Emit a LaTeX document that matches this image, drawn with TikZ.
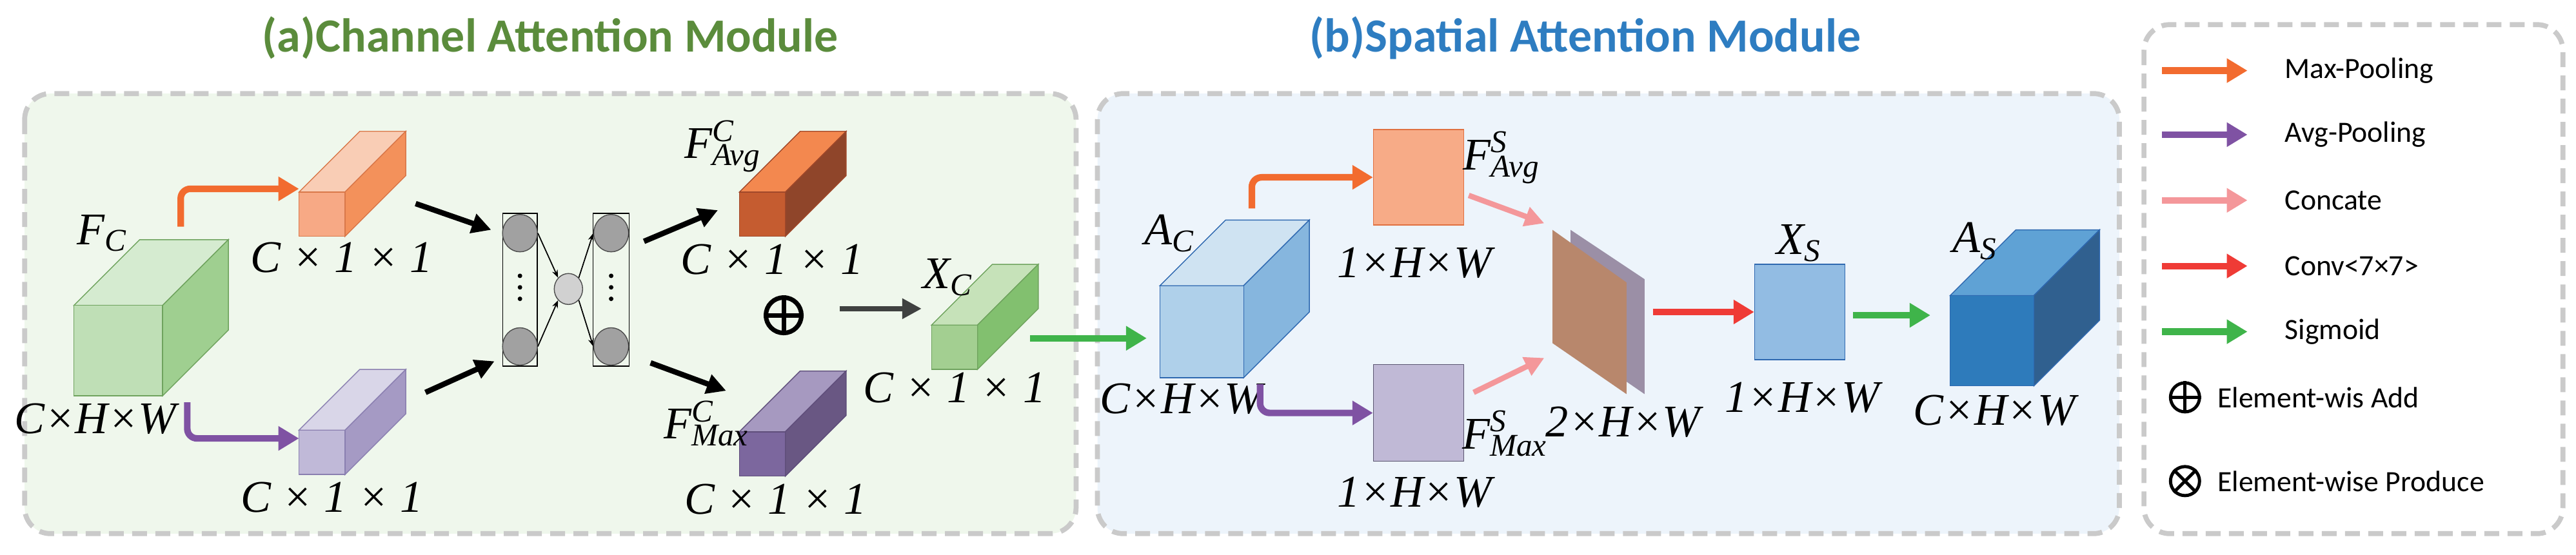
\documentclass[tikz,border=0pt]{standalone}
\usepackage{fontspec}
\setmainfont{Liberation Serif}
\newfontfamily\sansfont{Carlito}
\usetikzlibrary{arrows.meta,positioning,calc,shapes.geometric}
\definecolor{panelA}{HTML}{EFF7EC}
\definecolor{panelB}{HTML}{EDF4FB}
\definecolor{dashgray}{HTML}{CACACA}
\definecolor{maxorange}{HTML}{F26B2F}
\definecolor{avgpurple}{HTML}{7F52A3}
\definecolor{catpink}{HTML}{F4979A}
\definecolor{convred}{HTML}{EF3B36}
\definecolor{siggreen}{HTML}{3FB44A}
\definecolor{addgray}{HTML}{3F4140}
\definecolor{titlegreen}{HTML}{5B8C3C}
\definecolor{titleblue}{HTML}{2E7DC1}
\definecolor{avgsfill}{HTML}{F7AB87}
\definecolor{avgsedge}{HTML}{E07040}
\definecolor{maxsfill}{HTML}{C0B9D6}
\definecolor{maxsedge}{HTML}{5A5570}
\definecolor{xsfill}{HTML}{92BCE3}
\definecolor{blueedge}{HTML}{2E68B0}
\definecolor{slabback}{HTML}{9B8FA6}
\definecolor{slabfront}{HTML}{B8876C}
\newcommand{\lbl}{\fontsize{20}{20}\selectfont\itshape}
% cube: front x0 y0 x1 y1, depth, front/top/side/edge colours (hex)
\newcommand{\drawcube}[9]{%
  \definecolor{cubefront}{HTML}{#6}\definecolor{cubetop}{HTML}{#7}%
  \definecolor{cubeside}{HTML}{#8}\definecolor{cubeedge}{HTML}{#9}%
  \filldraw[draw=cubeedge,fill=cubetop] (#1,#2) -- ({#1+#5},{#2-#5}) -- ({#3+#5},{#2-#5}) -- (#3,#2) -- cycle;
  \filldraw[draw=cubeedge,fill=cubeside] (#3,#2) -- ({#3+#5},{#2-#5}) -- ({#3+#5},{#4-#5}) -- (#3,#4) -- cycle;
  \filldraw[draw=cubeedge,fill=cubefront] (#1,#2) rectangle (#3,#4);}
\begin{document}
\begin{tikzpicture}[x=0.02547cm,y=-0.02547cm,
  panel/.style={draw=dashgray,line width=2.2pt,dash pattern=on 0.23cm off 0.13cm,rounded corners=0.4cm},
  flow/.style={line width=2.9pt,rounded corners=0.15cm,-{Triangle[length=0.32cm,width=0.36cm]}},
  blk/.style={line width=2.4pt,-{Triangle[length=0.3cm,width=0.3cm]}},
  link/.style={line width=0.5pt,-{Stealth[length=0.12cm]}},
  neuron/.style={draw=black!70,fill=black!37,line width=0.4pt,ellipse,minimum width=0.54cm,minimum height=0.58cm,inner sep=0pt},
  legtxt/.style={anchor=west,font=\sansfont\fontsize{13}{13}\selectfont},
  ttl/.style={font=\sansfont\bfseries\fontsize{21}{21}\selectfont}]
\useasboundingbox (0,0) rectangle (1568,337.7);
% panels
\draw[panel,fill=panelA] (15,57) rectangle (655,325);
\draw[panel,fill=panelB] (668,57) rectangle (1290,325);
\draw[panel,fill=white] (1305,15) rectangle (1560,325);
\node[ttl,text=titlegreen] (titleA) at (335,23) {(a)Channel Attention Module};
\node[ttl,text=titleblue] (titleB) at (965,23) {(b)Spatial Attention Module};

% channel attention
\drawcube{45}{186}{99}{241}{40}{BFDFB6}{D5EBD0}{9FCF90}{6FA35E}
\drawcube{182}{117}{210}{144}{37}{F7A985}{F9CDB5}{F3915B}{D9784A}
\drawcube{182}{262}{210}{289}{37}{C0B9D8}{D9D6E8}{A59AC4}{8A7FB0}
\drawcube{450}{117}{478}{144}{37}{C55C30}{F3884F}{8F452A}{A0482A}
\drawcube{450}{263}{478}{290}{37}{7C679E}{A699C0}{695783}{5E4D7A}
\drawcube{567}{198}{595}{225}{37}{A3CF91}{C6E2B9}{82C06F}{6FA35E}
\node (fc) at (62,142) {\lbl F\textsubscript{C}};
\node (fcdim) at (58,255) {\lbl C×H×W};
\node (avgdim) at (208,157) {\lbl C × 1 × 1};
\node (maxdim) at (202,303) {\lbl C × 1 × 1};
\node (favgc) at (440,89) {\lbl F\rlap{\textsuperscript{C}}\textsubscript{Avg}};
\node (fmaxc) at (430,258) {\lbl F\rlap{\textsuperscript{C}}\textsubscript{Max}};
\node (avgcdim) at (470,158) {\lbl C × 1 × 1};
\node (maxcdim) at (472,304) {\lbl C × 1 × 1};
\node (xc) at (577,169) {\lbl X\textsubscript{C}};
\node (xcdim) at (581,236) {\lbl C × 1 × 1};
\node[circle,draw,line width=2pt,minimum size=0.55cm,inner sep=0pt] (add) at (477,192) {};
\draw[line width=2pt] (add.north) -- (add.south) (add.west) -- (add.east);

% shared MLP
\draw[line width=0.4pt] (306,130) rectangle (327,223) (361,130) rectangle (383,223);
\node[neuron] (l1) at (316.5,142) {};
\node[neuron] (l2) at (316.5,211) {};
\node[neuron] (r1) at (372,142) {};
\node[neuron] (r2) at (372,211) {};
\node[neuron,fill=black!18,minimum width=0.44cm,minimum height=0.48cm] (mid) at (346,176) {};
\foreach \cx in {316.5,372} \foreach \cy in {168,175,182} \fill (\cx,\cy) circle (0.035cm);
\draw[link] (l1.east) -- (mid.north west);
\draw[link] (l2.east) -- (mid.south west);
\draw[link] (mid.north east) -- (r1.west);
\draw[link] (mid.south east) -- (r2.west);

\coordinate (fcTop) at (110,138);
\coordinate (fcBot) at (114,245);
\coordinate (avgIn) at (182,115);
\coordinate (maxIn) at (182,267);
\draw[flow,maxorange] (fcTop) |- (avgIn);
\draw[flow,avgpurple] (fcBot) |- (maxIn);
\coordinate (a1) at (253,124); \coordinate (a2) at (299,140);
\coordinate (b1) at (259,239); \coordinate (b2) at (301,220);
\coordinate (c1) at (392,147); \coordinate (c2) at (437,128);
\coordinate (d1) at (396,221); \coordinate (d2) at (442,238);
\draw[blk] (a1) -- (a2);
\draw[blk] (b1) -- (b2);
\draw[blk] (c1) -- (c2);
\draw[blk] (d1) -- (d2);
\coordinate (g1) at (511,188);
\coordinate (xcIn) at (561,188);
\draw[blk,addgray] (g1) -- (xcIn);
\coordinate (xcOut) at (627,206);
\coordinate (acIn) at (698,206);
\draw[flow,siggreen] (xcOut) -- (acIn);

% spatial attention
\drawcube{706}{174}{757}{230}{40}{AFD0EA}{CFE3F2}{86B6DE}{2E68B0}
\drawcube{1187}{180}{1238}{235}{40}{2E7BBB}{5FA2D5}{30608F}{2E68B0}
\node[draw=avgsedge,fill=avgsfill,minimum width=1.4cm,minimum height=1.48cm,inner sep=0pt] (favgs) at (863.5,108) {};
\node[draw=maxsedge,fill=maxsfill,minimum width=1.4cm,minimum height=1.5cm,inner sep=0pt] (fmaxs) at (863.5,251.5) {};
\node[draw=blueedge,fill=xsfill,minimum width=1.4cm,minimum height=1.48cm,inner sep=0pt] (xs) at (1095.5,190) {};
\fill[slabback] (956,140) -- (1001,170) -- (1001,240) -- (956,209) -- cycle;
\fill[slabfront] (945,140) -- (990,172) -- (990,240) -- (945,209) -- cycle;
\node (ac) at (712,142) {\lbl A\textsubscript{C}};
\node (acdim) at (719,243) {\lbl C×H×W};
\node (favgslbl) at (914,96) {\lbl F\rlap{\textsuperscript{S}}\textsubscript{Avg}};
\node (fmaxslbl) at (916,264) {\lbl F\rlap{\textsuperscript{S}}\textsubscript{Max}};
\node (avgsdim) at (861,160) {\lbl 1×H×W};
\node (maxsdim) at (861,300) {\lbl 1×H×W};
\node (catdim) at (988,257) {\lbl 2×H×W};
\node (xslbl) at (1095,148) {\lbl X\textsubscript{S}};
\node (xsdim) at (1097,242) {\lbl 1×H×W};
\node (as) at (1202,147) {\lbl A\textsubscript{S}};
\node (asdim) at (1214,250) {\lbl C×H×W};
\coordinate (acTop) at (762,127);
\coordinate (acBot) at (767,234);
\draw[flow,maxorange] (acTop) |- (favgs.west);
\draw[flow,avgpurple] (acBot) |- (fmaxs.west);
\coordinate (p1) at (894,119); \coordinate (p2) at (940,136);
\coordinate (q1) at (897,239); \coordinate (q2) at (940,218);
\draw[blk,catpink] (p1) -- (p2);
\draw[blk,catpink] (q1) -- (q2);
\coordinate (catOut) at (1006,190);
\draw[flow,convred] (catOut) -- (xs.west);
\coordinate (s1) at (1128,192);
\coordinate (asIn) at (1175,192);
\draw[flow,siggreen] (s1) -- (asIn);

% legend
\foreach \y/\c/\t [count=\i] in {43/maxorange/Max-Pooling,82/avgpurple/Avg-Pooling,122/catpink/Concate,162/convred/Conv<7×7>,202/siggreen/Sigmoid}{
  \coordinate (ls\i) at (1316,\y);
  \coordinate (le\i) at (1368,\y);
  \draw[flow,\c] (ls\i) -- (le\i);
  \node[legtxt] (lt\i) at (1386,\y) {\t};}
\node[circle,draw,line width=1.4pt,minimum size=0.45cm,inner sep=0pt] (legadd) at (1330,242) {};
\draw[line width=1.4pt] (legadd.north) -- (legadd.south) (legadd.west) -- (legadd.east);
\node[legtxt] (legaddt) at (1345,242) {Element-wis Add};
\node[circle,draw,line width=1.4pt,minimum size=0.45cm,inner sep=0pt] (legmul) at (1330,293) {};
\draw[line width=1.4pt] (legmul.north west) -- (legmul.south east) (legmul.north east) -- (legmul.south west);
\node[legtxt] (legmult) at (1345,293) {Element-wise Produce};
\end{tikzpicture}
\end{document}
